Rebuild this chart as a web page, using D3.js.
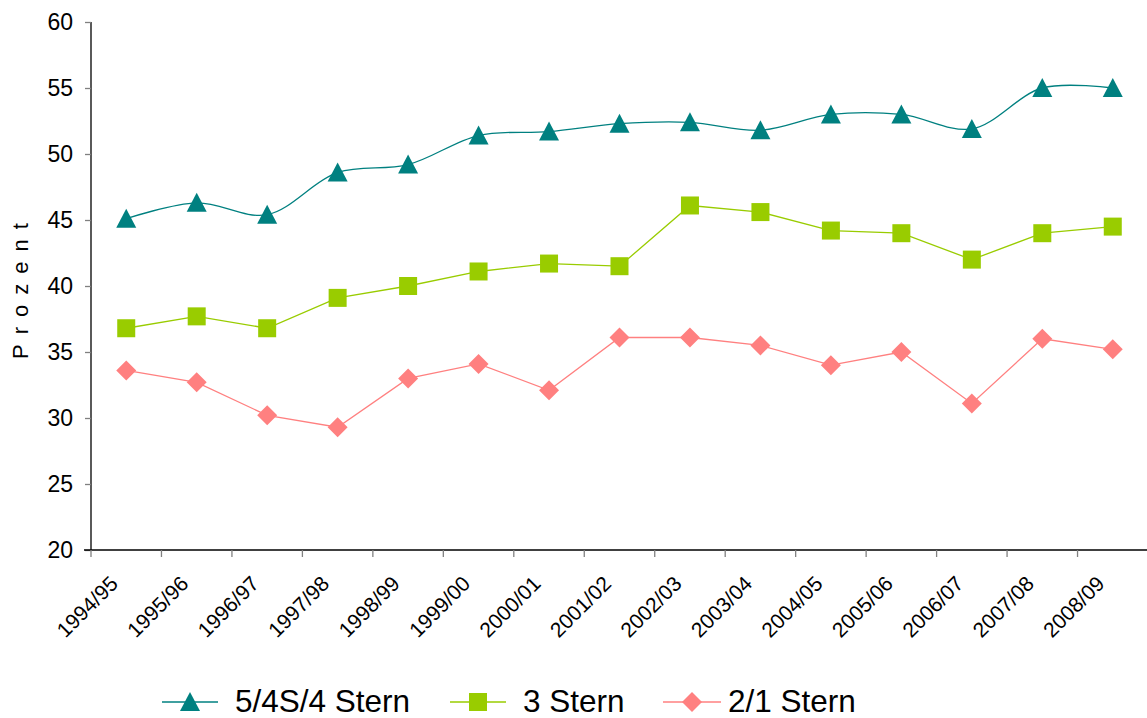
<!DOCTYPE html>
<html><head><meta charset="utf-8">
<script src="https://cdn.jsdelivr.net/npm/d3@7/dist/d3.min.js"></script>
<style>body{margin:0;background:#fff}svg{display:block;font-family:"Liberation Sans",Arial,sans-serif}</style>
</head><body><svg id="c" width="1147" height="718"></svg>
<script>
const categories = ["1994/95","1995/96","1996/97","1997/98","1998/99","1999/00","2000/01","2001/02","2002/03","2003/04","2004/05","2005/06","2006/07","2007/08","2008/09"];
const stern5 = [45.1,46.3,45.4,48.6,49.2,51.4,51.7,52.3,52.4,51.8,53.0,53.0,51.9,55.0,55.0];
const stern3 = [36.8,37.7,36.8,39.1,40.0,41.1,41.7,41.5,46.1,45.6,44.2,44.0,42.0,44.0,44.5];
const stern21 = [33.6,32.7,30.2,29.3,33.0,34.1,32.1,36.1,36.1,35.5,34.0,35.0,31.1,36.0,35.2];
const yTicks = [20,25,30,35,40,45,50,55,60];
const seriesNames = ["5/4S/4 Stern","3 Stern","2/1 Stern"];

const svg = d3.select("#c");
const x = d3.scaleBand().domain(categories).range([91,1148]);
const y = d3.scaleLinear().domain([20,60]).range([550,22]);

// Y axis
const ya = svg.append("g").attr("transform","translate(91,0)")
  .call(d3.axisLeft(y).tickValues(yTicks).tickSize(6).tickPadding(12));
ya.select(".domain").attr("stroke","#000").attr("stroke-width",1.3).attr("d","M0,22V550");
ya.selectAll(".tick line").attr("stroke","#808080").attr("stroke-width",1.3);
ya.selectAll("text").attr("font-size",23).attr("fill","#000").attr("font-family","Liberation Sans, Arial, sans-serif");

// X axis
const xa = svg.append("g").attr("transform","translate(0,550)")
  .call(d3.axisBottom(x).tickSize(0).tickFormat(""));
xa.select(".domain").attr("stroke","#000").attr("stroke-width",1.3).attr("d","M84,0H1148");
const bounds = categories.map(c=>x(c)).concat([x.range()[1]]);
xa.selectAll(".bt").data(bounds).enter().append("line").attr("class","bt")
  .attr("x1",d=>d).attr("x2",d=>d).attr("y1",0).attr("y2",7)
  .attr("stroke","#808080").attr("stroke-width",1.3);
xa.selectAll(".lbl").data(categories).enter().append("text").attr("class","lbl")
  .attr("transform",d=>`translate(${x(d)+x.bandwidth()/2-7},${35}) rotate(-45)`)
  .attr("text-anchor","end").attr("font-size",21).attr("fill","#000").text(d=>d);

// Y label
svg.append("text").attr("transform","translate(28,286) rotate(-90)")
  .attr("text-anchor","middle").attr("font-size",22).attr("letter-spacing","10px").text("Prozent");

const cx = d => x(d)+x.bandwidth()/2;
const series = [
  {vals:stern5,color:"#008080",curve:d3.curveCatmullRom.alpha(0.5),shape:"tri"},
  {vals:stern3,color:"#99CC00",curve:d3.curveLinear,shape:"sq"},
  {vals:stern21,color:"#FF8080",curve:d3.curveLinear,shape:"dia"}
];
function marker(g,shape,color){
  if(shape==="tri") g.append("path").attr("d","M0,-10L10,9L-10,9Z").attr("fill",color);
  else if(shape==="sq") g.append("rect").attr("x",-9).attr("y",-9).attr("width",18).attr("height",18).attr("fill",color);
  else g.append("path").attr("d","M0,-10L10,0L0,10L-10,0Z").attr("fill",color);
}
series.forEach(s=>{
  const line = d3.line().x((d,i)=>cx(categories[i])).y(d=>y(d)).curve(s.curve);
  svg.append("path").attr("d",line(s.vals)).attr("fill","none").attr("stroke",s.color).attr("stroke-width",1.3);
  s.vals.forEach((v,i)=>{
    const g = svg.append("g").attr("transform",`translate(${cx(categories[i])},${y(v)})`);
    marker(g,s.shape,s.color);
  });
});

// Legend
const legX = [162,450,663];
const legW = [56,56,58];
const legT = [235,523,728];
series.forEach((s,i)=>{
  const g = svg.append("g").attr("transform",`translate(${legX[i]},702)`);
  g.append("line").attr("x1",0).attr("x2",legW[i]).attr("y1",0).attr("y2",0).attr("stroke",s.color).attr("stroke-width",1.3);
  const m = g.append("g").attr("transform",`translate(${legW[i]/2},0)`);
  marker(m,s.shape,s.color);
  svg.append("text").attr("x",legT[i]).attr("y",712).attr("font-size",31.5).attr("fill","#000").text(seriesNames[i]);
});
</script></body></html>
